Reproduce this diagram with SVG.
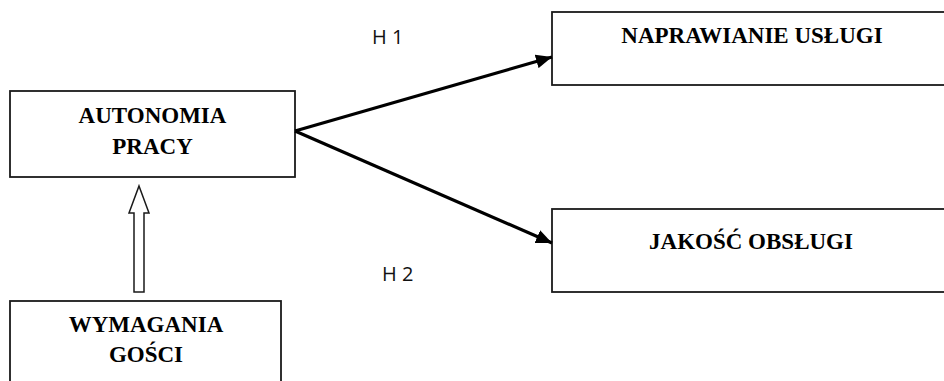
<svg xmlns="http://www.w3.org/2000/svg" width="944" height="381" viewBox="0 0 944 381">
<style>
.box{fill:#fff;stroke:#1a1a1a;stroke-width:1.8}
.t{font-family:"Liberation Serif","Times New Roman",serif;font-weight:bold;font-size:23px;fill:#000;text-anchor:middle}
.h{font-family:"Open Sans","Liberation Sans",sans-serif;font-size:20px;fill:#111}
.conn{stroke:#000;stroke-width:3.2;fill:none}
</style>
<defs>
<marker id="ah" markerUnits="userSpaceOnUse" markerWidth="18" markerHeight="14" refX="16" refY="7" orient="auto">
<path d="M0,0 L16,7 L0,14 Z" fill="#000"/>
</marker>
</defs>
<rect width="944" height="381" fill="#fff"/>
<g id="autonomia">
<rect class="box" x="10" y="91" width="285" height="86"/>
<text class="t" x="152.5" y="123">AUTONOMIA</text>
<text class="t" x="152.5" y="154">PRACY</text>
</g>
<g id="naprawianie">
<rect class="box" x="552" y="12" width="400" height="73"/>
<text class="t" x="752" y="43">NAPRAWIANIE USŁUGI</text>
</g>
<g id="jakosc">
<rect class="box" x="552" y="209" width="400" height="83"/>
<text class="t" x="751" y="249">JAKOŚĆ OBSŁUGI</text>
</g>
<g id="wymagania">
<rect class="box" x="10" y="301" width="271" height="90"/>
<text class="t" x="146" y="332">WYMAGANIA</text>
<text class="t" x="146" y="362">GOŚCI</text>
</g>
<g id="connectors">
<line class="conn" x1="295" y1="131" x2="552" y2="57" marker-end="url(#ah)"/>
<line class="conn" x1="295" y1="131" x2="552" y2="243" marker-end="url(#ah)"/>
<polygon points="139,186 149,213 144,213 144,292 134,292 134,213 129,213" fill="#fff" stroke="#1a1a1a" stroke-width="1.5"/>
<text class="h" x="372" y="44">H 1</text>
<text class="h" x="382" y="281">H 2</text>
</g>
</svg>
